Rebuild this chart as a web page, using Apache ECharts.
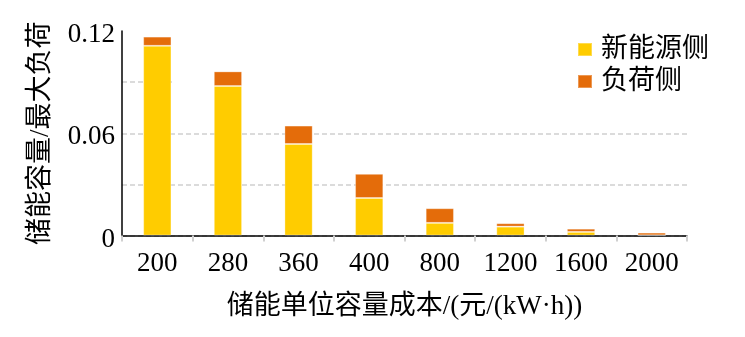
<!DOCTYPE html>
<html>
<head>
<meta charset="utf-8">
<script src="https://cdn.jsdelivr.net/npm/echarts@6/dist/echarts.min.js"></script>
<style>html,body{margin:0;padding:0;background:#fff}#c{width:745px;height:337px}</style>
</head>
<body>
<div id="c"></div>
<script>
const categories = ['200', '280', '360', '400', '800', '1200', '1600', '2000'];
const newEnergySide = [0.1113, 0.0877, 0.0537, 0.0220, 0.0074, 0.0052, 0.0021, 0.0001];
const loadSide = [0.0054, 0.0086, 0.0108, 0.0142, 0.0086, 0.0020, 0.0019, 0.0016];
const seriesNames = ['新能源侧', '负荷侧'];
const yTickLabels = ['0', '0.06', '0.12'];
const xAxisName = '储能单位容量成本/(元/(kW·h))';
const yAxisName = '储能容量/最大负荷';

const FONT = "'Liberation Serif', 'Noto Sans CJK SC', serif";
const chart = echarts.init(document.getElementById('c'), null, {renderer: 'canvas'});
chart.setOption({
  animation: false,
  backgroundColor: '#fff',
  grid: {left: 122, right: 58, top: 31, bottom: 101.5},
  legend: {
    data: seriesNames,
    orient: 'vertical',
    left: 172,
    top: 28,
    padding: [8, 40, 20, 405],
    backgroundColor: '#fff',
    z: 1,
    itemWidth: 14,
    itemHeight: 13,
    itemGap: 5,
    icon: 'rect',
    textStyle: {fontFamily: FONT, fontSize: 27, color: '#000', padding: [0, 0, 0, 4]}
  },
  xAxis: {
    type: 'category',
    data: categories,
    name: xAxisName,
    nameLocation: 'middle',
    nameGap: 58,
    nameTextStyle: {fontFamily: FONT, fontSize: 27, color: '#000'},
    axisLine: {lineStyle: {color: '#000', width: 1.5}},
    axisTick: {show: true, length: 6, lineStyle: {color: '#d0d0d0', width: 2}},
    axisLabel: {fontFamily: FONT, fontSize: 27, color: '#000', margin: 15}
  },
  yAxis: {
    type: 'value',
    min: 0,
    max: 0.12,
    interval: 0.03,
    name: yAxisName,
    nameLocation: 'middle',
    nameGap: 68,
    nameTextStyle: {fontFamily: FONT, fontSize: 27, color: '#000'},
    axisLine: {show: true, lineStyle: {color: '#000', width: 1.5}},
    axisTick: {show: false},
    axisLabel: {
      fontFamily: FONT, fontSize: 27, color: '#000', margin: 7,
      verticalAlign: 'top', lineHeight: 8,
      formatter: function (v) {
        const k = Math.round(v / 0.06 * 1000) / 1000;
        if (Math.abs(k - Math.round(k)) > 1e-6) return '';
        return yTickLabels[Math.round(k)];
      }
    },
    splitLine: {show: true, showMaxLine: false, lineStyle: {color: '#d0d0d0', width: 1.5, type: [5, 3]}}
  },
  series: [
    {
      name: seriesNames[0], type: 'bar', stack: 'total', data: newEnergySide,
      barWidth: '40%', z: 2,
      itemStyle: {color: '#FFCC00', borderColor: 'rgba(255,255,255,0.3)', borderWidth: 1}
    },
    {
      name: seriesNames[1], type: 'bar', stack: 'total', data: loadSide,
      barWidth: '40%', z: 2,
      itemStyle: {color: '#E46C0A', borderColor: 'rgba(255,255,255,0.3)', borderWidth: 1}
    }
  ]
});
</script>
</body>
</html>
